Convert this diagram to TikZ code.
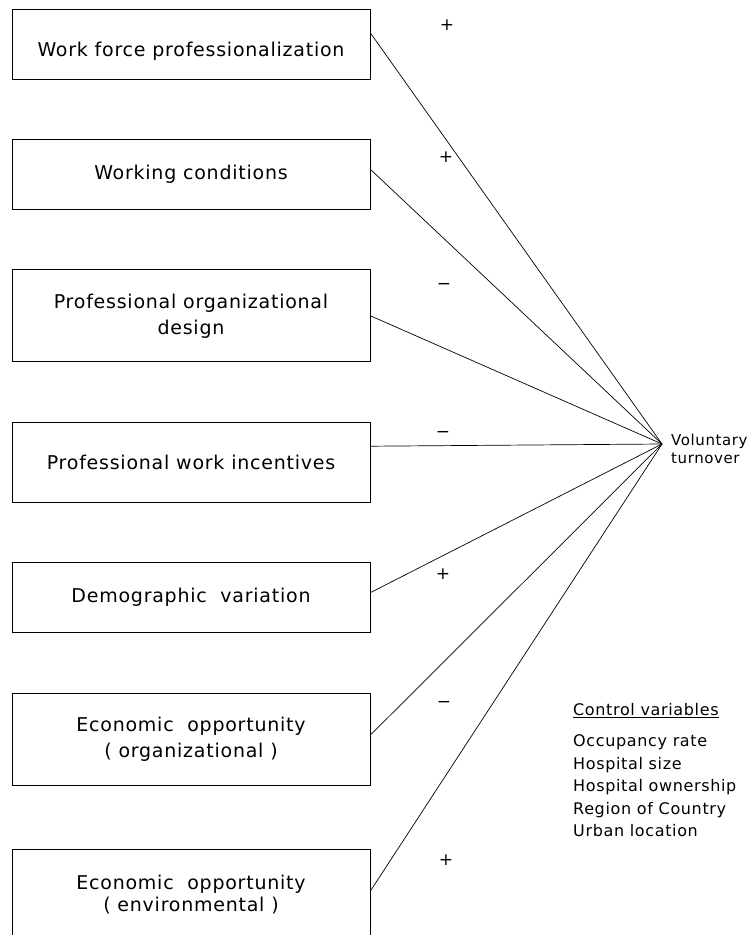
\documentclass[tikz,border=0pt]{standalone}
\usepackage{fontspec}
\setmainfont{DejaVu Sans}[LetterSpace=4]
\usetikzlibrary{positioning}

\begin{document}
\begin{tikzpicture}[x=1pt, y=-1pt, node distance=59.5pt,
    box/.style={rectangle, draw, line width=0.9pt, minimum width=358pt, inner sep=0pt, align=center,
                font=\fontsize{19}{26}\selectfont},
    link/.style={line width=0.7pt},
    sign/.style={font=\fontsize{17}{17}\selectfont, inner sep=0pt}]

    \useasboundingbox (0,0) rectangle (752,935);

    % factor boxes
    \node[box, minimum height=70pt, text height=24pt, text depth=0pt] (prof) at (191,44) {Work force professionalization};
    \node[box, minimum height=70pt, below=of prof] (cond) {Working conditions};
    \node[box, minimum height=92pt, below=of cond] (design) {Professional organizational\\design};
    \node[box, minimum height=80pt, below=of design] (incent) {Professional work incentives};
    \node[box, minimum height=70pt, below=of incent] (demo) {Demographic \ variation};
    \node[box, minimum height=92pt, below=of demo] (econorg) {Economic \ opportunity\\( organizational )};
    \node[box, minimum height=90pt, below=64pt of econorg] (econenv) {Economic \ opportunity\\[-4pt]( environmental )};

    % outcome
    \coordinate (turn) at (662,444);
    \node[anchor=west, align=left, inner sep=0pt, font=\fontsize{15}{18}\selectfont] (turnlbl) at (671,449) {Voluntary\\turnover};

    \draw[link] ([yshift=11pt]prof.east) -- (turn);
    \draw[link] ([yshift=5pt]cond.east) -- (turn);
    \draw[link] (design.east) -- (turn);
    \draw[link] ([yshift=16pt]incent.east) -- (turn);
    \draw[link] ([yshift=5pt]demo.east) -- (turn);
    \draw[link] ([yshift=4pt]econorg.east) -- (turn);
    \draw[link] ([yshift=4pt]econenv.east) -- (turn);

    % signs
    \node[sign] (s1) at (447,25) {+};
    \node[sign] (s2) at (446,157) {+};
    \node[sign] (s3) at (444,286) {−};
    \node[sign] (s4) at (443,434) {−};
    \node[sign] (s5) at (443,574) {+};
    \node[sign] (s6) at (444,704) {−};
    \node[sign] (s7) at (446,860) {+};

    % control variables
    \node[anchor=north west, align=left, inner sep=0pt, font=\fontsize{16}{22.5}\selectfont] (ctrl) at (573,703)
        {\underline{Control variables}\\[9pt]
         Occupancy rate\\
         Hospital size\\
         Hospital ownership\\
         Region of Country\\
         Urban location};

\end{tikzpicture}
\end{document}
